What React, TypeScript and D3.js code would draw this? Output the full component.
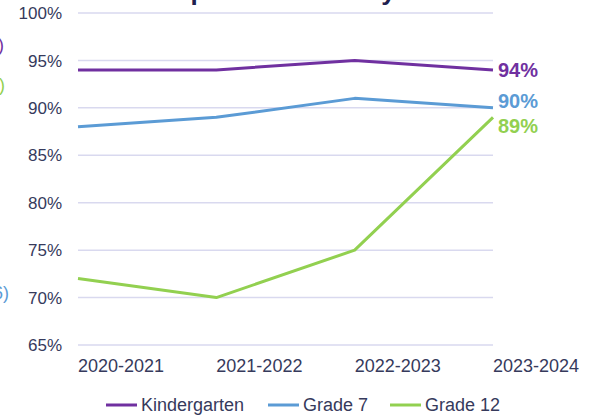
import React from 'react';
import * as d3 from 'd3';

// School years on the x axis
const years = ['2020-2021', '2021-2022', '2022-2023', '2023-2024'];

// Compliance (%) per grade
const kindergarten = [94, 94, 95, 94];
const grade7 = [88, 89, 91, 90];
const grade12 = [72, 70, 75, 89];

const yTicks = [65, 70, 75, 80, 85, 90, 95, 100];

const series = [
  { name: 'Kindergarten', values: kindergarten, color: '#7030a0', labelShift: 0 },
  { name: 'Grade 7', values: grade7, color: '#5b9bd5', labelShift: -7 },
  { name: 'Grade 12', values: grade12, color: '#92d050', labelShift: 8 },
];

const WIDTH = 594;
const HEIGHT = 417;
const FONT = '"Liberation Sans", Arial, Helvetica, sans-serif';
const TEXT = '#363a5c';

export default function App() {
  const x = d3.scalePoint<string>().domain(years).range([78, 493]);
  const y = d3.scaleLinear().domain([65, 100]).range([345, 13]);

  const line = d3
    .line<number>()
    .x((_, i) => x(years[i]) as number)
    .y((d) => y(d));

  const legendX = [106, 268, 390];

  return (
    <div style={{ position: 'absolute', left: 0, top: 0 }}>
      <svg width={WIDTH} height={HEIGHT} style={{ display: 'block', fontFamily: FONT }}>
        {/* title, mostly cut off above the frame */}
        <text x={295} y={0} textAnchor="middle" fontSize={26} fontWeight="bold" fill="#1f2150">
          Compliance Rates by Year
        </text>

        {/* clipped side notes at the left edge */}
        <text x={4} y={51} textAnchor="end" fontSize={18} fill="#7030a0">(K)</text>
        <text x={5} y={91} textAnchor="end" fontSize={18} fill="#92d050">(12)</text>
        <text x={9} y={299} textAnchor="end" fontSize={18} fill="#5b9bd5">(16)</text>

        {/* grid */}
        {yTicks.map((t) => (
          <line
            key={t}
            x1={78}
            x2={493}
            y1={y(t)}
            y2={y(t)}
            stroke="#d9d9ef"
            strokeWidth={1.5}
          />
        ))}

        {/* y tick labels */}
        {yTicks.map((t) => (
          <text key={t} x={62} y={y(t)} dy="0.36em" textAnchor="end" fontSize={17} fill={TEXT}>
            {t}%
          </text>
        ))}

        {/* x tick labels, left aligned at each point */}
        {years.map((yr) => (
          <text key={yr} x={x(yr)} y={372} fontSize={18} fill={TEXT}>
            {yr}
          </text>
        ))}

        {/* lines */}
        {series.map((s) => (
          <path
            key={s.name}
            d={line(s.values) || ''}
            fill="none"
            stroke={s.color}
            strokeWidth={3}
            strokeLinejoin="round"
          />
        ))}

        {/* end labels */}
        {series.map((s) => {
          const last = s.values[s.values.length - 1];
          return (
            <text
              key={s.name}
              x={(x(years[years.length - 1]) as number) + 5}
              y={y(last) + s.labelShift}
              dy="0.36em"
              fontSize={20}
              fontWeight="bold"
              fill={s.color}
            >
              {last}%
            </text>
          );
        })}

        {/* legend */}
        {series.map((s, i) => (
          <g key={s.name} transform={`translate(${legendX[i]},405)`}>
            <line x1={0} x2={31} y1={0} y2={0} stroke={s.color} strokeWidth={3} />
            <text x={35} y={6} fontSize={18} fill={TEXT}>
              {s.name}
            </text>
          </g>
        ))}
      </svg>
    </div>
  );
}
